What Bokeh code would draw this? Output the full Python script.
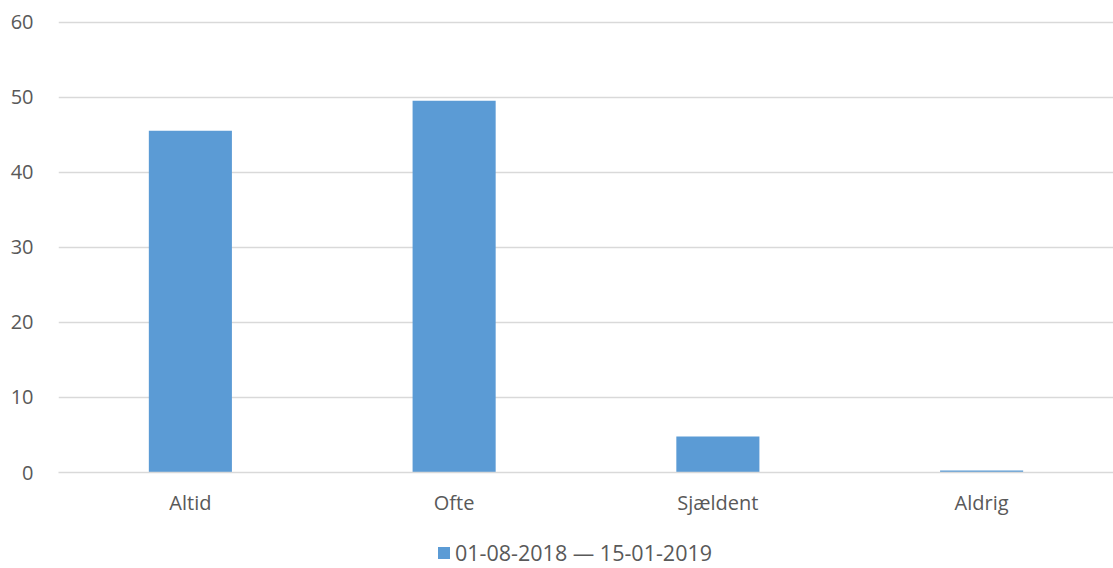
from bokeh.plotting import figure
from bokeh.layouts import column
from bokeh.models import ColumnDataSource, Legend, LegendItem, FixedTicker, Range1d, FactorRange
from bokeh.embed import file_html
from bokeh.resources import INLINE

categories = ["Altid", "Ofte", "Sjældent", "Aldrig"]
values = [45.5, 49.5, 4.8, 0.25]
series_name = "01-08-2018 — 15-01-2019"
y_ticks = [0, 10, 20, 30, 40, 50, 60]

FONT = "Open Sans"
TXT = "#595959"
GRID = "#d9d9d9"
BAR = "#5b9bd5"
FS = "20px"

src = ColumnDataSource(dict(cat=categories, val=values))

p = figure(x_range=FactorRange(*categories, range_padding=0), y_range=Range1d(0, 60.2),
           width=1113, height=530, output_backend="svg", toolbar_location=None,
           min_border_left=58, min_border_right=0, min_border_top=20, min_border_bottom=58)
p.outline_line_color = None
r = p.vbar(x="cat", top="val", width=0.315, source=src, fill_color=BAR, line_color=None)

p.yaxis.ticker = FixedTicker(ticks=y_ticks)
p.yaxis.axis_line_color = None
p.yaxis.major_tick_line_color = None
p.yaxis.minor_tick_line_color = None
p.yaxis.major_label_text_font = FONT
p.yaxis.major_label_text_font_size = FS
p.yaxis.major_label_text_color = TXT
p.yaxis.major_label_standoff = 19

p.xaxis.axis_line_color = GRID
p.xaxis.axis_line_width = 1.5
p.xaxis.major_tick_line_color = None
p.xaxis.minor_tick_line_color = None
p.xaxis.major_label_text_font = FONT
p.xaxis.major_label_text_font_size = FS
p.xaxis.major_label_text_color = TXT
p.xaxis.major_label_standoff = 10

p.xgrid.grid_line_color = None
p.ygrid.grid_line_color = GRID
p.ygrid.grid_line_width = 1.5
p.ygrid.ticker = FixedTicker(ticks=y_ticks)

# legend strip below the chart (its frame is aligned with the chart's frame)
lf = figure(width=1113, height=38, output_backend="svg", toolbar_location=None,
            x_axis_type=None, y_axis_type=None, x_range=Range1d(0, 1), y_range=Range1d(0, 1),
            min_border_left=58, min_border_right=0, min_border_top=0, min_border_bottom=0)
lf.outline_line_color = None
lf.grid.grid_line_color = None
dummy = lf.rect(x=[50], y=[50], width=1, height=1, fill_color=BAR, line_color=None)
legend = Legend(items=[LegendItem(label=series_name, renderers=[dummy])],
                location=(378, 1), orientation="horizontal",
                label_text_font=FONT, label_text_font_size="21.5px", label_text_color=TXT,
                glyph_width=15, glyph_height=15, label_standoff=4,
                border_line_color=None, background_fill_alpha=0,
                margin=0, padding=0, label_height=22)
lf.add_layout(legend, "center")

layout = column(p, lf, spacing=0)
open("out.html", "w").write(file_html(layout, INLINE))
